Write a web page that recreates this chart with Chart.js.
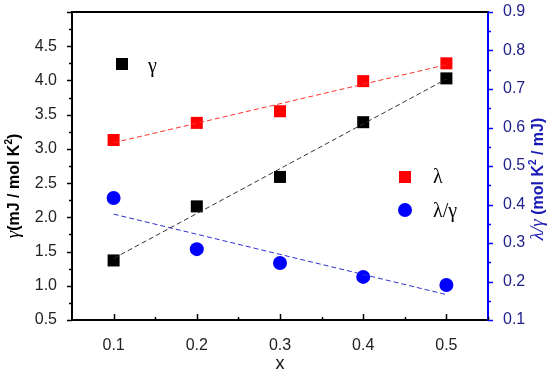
<!DOCTYPE html>
<html>
<head>
<meta charset="utf-8">
<script src="https://cdn.jsdelivr.net/npm/chart.js@4.4.1/dist/chart.umd.min.js"></script>
<style>
  html, body { margin: 0; padding: 0; background: #fff; }
  #wrap { width: 550px; height: 375px; }
</style>
</head>
<body>
<div id="wrap"><canvas id="chart"></canvas></div>
<script>
// composition x
const xVals = [0.1, 0.2, 0.3, 0.4, 0.5];
// gamma (mJ / mol K^2), left axis
const gamma = [1.37, 2.16, 2.59, 3.39, 4.03];
// lambda, left axis
const lambda = [3.13, 3.38, 3.55, 3.99, 4.25];
// lambda / gamma (mol K^2 / mJ), right axis
const ratio = [0.417, 0.284, 0.248, 0.212, 0.191];

// dashed fit lines, end points
const fitX = [0.1, 0.5];
const gammaFit = [1.40, 4.02];
const lambdaFit = [3.09, 4.23];
const ratioFit = [0.375, 0.166];

const xTicks = [0.1, 0.2, 0.3, 0.4, 0.5];
const leftTicks = [0.5, 1.0, 1.5, 2.0, 2.5, 3.0, 3.5, 4.0, 4.5];
const rightTicks = [0.1, 0.2, 0.3, 0.4, 0.5, 0.6, 0.7, 0.8, 0.9];

const BLUE = '#0000ff';
const NAVY = '#22228c';
const sans = '"Liberation Sans", Arial, sans-serif';
const serif = '"Liberation Serif", "Times New Roman", serif';

const pts = (xs, ys) => xs.map((x, i) => ({ x: x, y: ys[i] }));

// draws a row of text pieces in different fonts, centred on (cx, cy), optionally rotated
function drawMixed(ctx, parts, cx, cy, rot, color) {
  ctx.save();
  ctx.translate(cx, cy);
  ctx.rotate(rot);
  ctx.fillStyle = color;
  ctx.textBaseline = 'alphabetic';
  ctx.textAlign = 'left';
  let total = 0;
  parts.forEach(p => { ctx.font = p.font; total += ctx.measureText(p.text).width; });
  let x = -total / 2;
  parts.forEach(p => {
    ctx.font = p.font;
    ctx.fillText(p.text, x, 6 + (p.dy || 0));
    x += ctx.measureText(p.text).width;
  });
  ctx.restore();
}

const decorations = {
  id: 'decorations',
  afterDraw(chart) {
    const ctx = chart.ctx;
    const a = chart.chartArea;
    const sx = chart.scales.x, sy = chart.scales.y, sr = chart.scales.y1;

    ctx.save();
    // top frame line
    ctx.strokeStyle = '#000';
    ctx.lineWidth = 2;
    ctx.beginPath();
    ctx.moveTo(a.left - 1, a.top);
    ctx.lineTo(a.right, a.top);
    ctx.stroke();

    // tick marks
    ctx.lineWidth = 1.5;
    // bottom axis: ticks point inward
    for (let v = 0.1; v < 0.551; v += 0.05) {
      const px = Math.round(sx.getPixelForValue(v)) + 0.5;
      const major = Math.abs(v * 10 - Math.round(v * 10)) < 0.01;
      ctx.beginPath();
      ctx.moveTo(px, a.bottom);
      ctx.lineTo(px, a.bottom - (major ? 6 : 3));
      ctx.stroke();
    }
    // left axis: outward
    for (let v = 0.5; v < 5.01; v += 0.25) {
      const py = Math.round(sy.getPixelForValue(v)) + 0.5;
      const major = Math.abs(v * 2 - Math.round(v * 2)) < 0.01;
      ctx.beginPath();
      ctx.moveTo(a.left, py);
      ctx.lineTo(a.left - (major ? 5 : 3), py);
      ctx.stroke();
    }
    // right axis: outward, blue
    ctx.strokeStyle = BLUE;
    for (let v = 0.1; v < 0.901; v += 0.05) {
      const py = Math.round(sr.getPixelForValue(v)) + 0.5;
      const major = Math.abs(v * 10 - Math.round(v * 10)) < 0.01;
      ctx.beginPath();
      ctx.moveTo(a.right, py);
      ctx.lineTo(a.right + (major ? 5 : 3), py);
      ctx.stroke();
    }

    // legend entries placed inside the plot
    const sq = (x, y, c) => { ctx.fillStyle = c; ctx.fillRect(x - 6, y - 6, 12, 12); };
    sq(a.left + 50, a.top + 52, '#000');
    sq(a.left + 333, a.top + 165, '#ff0000');
    ctx.fillStyle = BLUE;
    ctx.beginPath();
    ctx.arc(a.left + 333, a.top + 198, 7, 0, Math.PI * 2);
    ctx.fill();
    ctx.fillStyle = '#000';
    ctx.font = '20px ' + serif;
    ctx.textBaseline = 'middle';
    ctx.textAlign = 'left';
    ctx.fillText('γ', a.left + 76, a.top + 55);
    ctx.fillText('λ', a.left + 361, a.top + 166);
    ctx.fillText('λ/γ', a.left + 361, a.top + 200);

    // axis titles
    const bold = 'bold 16px ' + sans;
    const small = 'bold 10px ' + sans;
    const greek = 'italic 19px ' + serif;
    drawMixed(ctx, [
      { text: 'γ', font: greek },
      { text: '(mJ / mol K', font: bold },
      { text: '2', font: small, dy: -7 },
      { text: ')', font: bold }
    ], 13, 186, -Math.PI / 2, '#000');
    drawMixed(ctx, [
      { text: 'λ/γ', font: greek },
      { text: ' (mol K', font: bold },
      { text: '2', font: small, dy: -7 },
      { text: ' / mJ)', font: bold }
    ], 537, 179, -Math.PI / 2, '#1a1ab4');
    ctx.restore();
  }
};

new Chart(document.getElementById('chart'), {
  type: 'scatter',
  data: {
    datasets: [
      {
        label: 'γ fit', data: pts(fitX, gammaFit), yAxisID: 'y', showLine: true,
        borderColor: '#333', borderWidth: 1, borderDash: [5, 3], pointRadius: 0
      },
      {
        label: 'λ fit', data: pts(fitX, lambdaFit), yAxisID: 'y', showLine: true,
        borderColor: '#ff3030', borderWidth: 1, borderDash: [5, 3], pointRadius: 0
      },
      {
        label: 'λ/γ fit', data: pts(fitX, ratioFit), yAxisID: 'y1', showLine: true,
        borderColor: '#3030d0', borderWidth: 1, borderDash: [5, 3], pointRadius: 0
      },
      {
        label: 'γ', data: pts(xVals, gamma), yAxisID: 'y',
        pointStyle: 'rect', pointRadius: 8.5, backgroundColor: '#000', borderWidth: 0
      },
      {
        label: 'λ', data: pts(xVals, lambda), yAxisID: 'y',
        pointStyle: 'rect', pointRadius: 8.5, backgroundColor: '#ff0000', borderWidth: 0
      },
      {
        label: 'λ/γ', data: pts(xVals, ratio), yAxisID: 'y1',
        pointStyle: 'circle', pointRadius: 7, backgroundColor: BLUE, borderWidth: 0
      }
    ]
  },
  options: {
    responsive: true,
    maintainAspectRatio: false,
    animation: false,
    layout: { padding: { top: 12, left: 0, right: 0, bottom: 0 } },
    plugins: { legend: { display: false }, tooltip: { enabled: false } },
    scales: {
      x: {
        type: 'linear', min: 0.05, max: 0.55,
        afterBuildTicks: s => { s.ticks = xTicks.map(v => ({ value: v })); },
        afterFit: s => { s.height = 55; s.paddingLeft = 0; s.paddingRight = 0; },
        grid: { display: false },
        border: { display: true, color: '#000', width: 2 },
        ticks: { font: { family: sans, size: 16 }, color: '#222', padding: 8, callback: v => v.toFixed(1) },
        title: { display: true, text: 'x', font: { family: sans, size: 18 }, color: '#111', padding: { top: 0, bottom: 0 } }
      },
      y: {
        position: 'left', min: 0.5, max: 5.0,
        afterBuildTicks: s => { s.ticks = leftTicks.map(v => ({ value: v })); },
        afterFit: s => { s.width = 72; s.paddingTop = 0; s.paddingBottom = 0; },
        grid: { display: false },
        border: { display: true, color: '#000', width: 2 },
        ticks: { font: { family: sans, size: 16 }, color: '#222', padding: 7, callback: v => v.toFixed(1) }
      },
      y1: {
        position: 'right', min: 0.1, max: 0.9,
        afterBuildTicks: s => { s.ticks = rightTicks.map(v => ({ value: v })); },
        afterFit: s => { s.width = 62; s.paddingTop = 0; s.paddingBottom = 0; },
        grid: { display: false },
        border: { display: true, color: BLUE, width: 2 },
        ticks: { font: { family: sans, size: 16 }, color: NAVY, padding: 7, callback: v => v.toFixed(1) }
      }
    }
  },
  plugins: [decorations]
});
</script>
</body>
</html>
